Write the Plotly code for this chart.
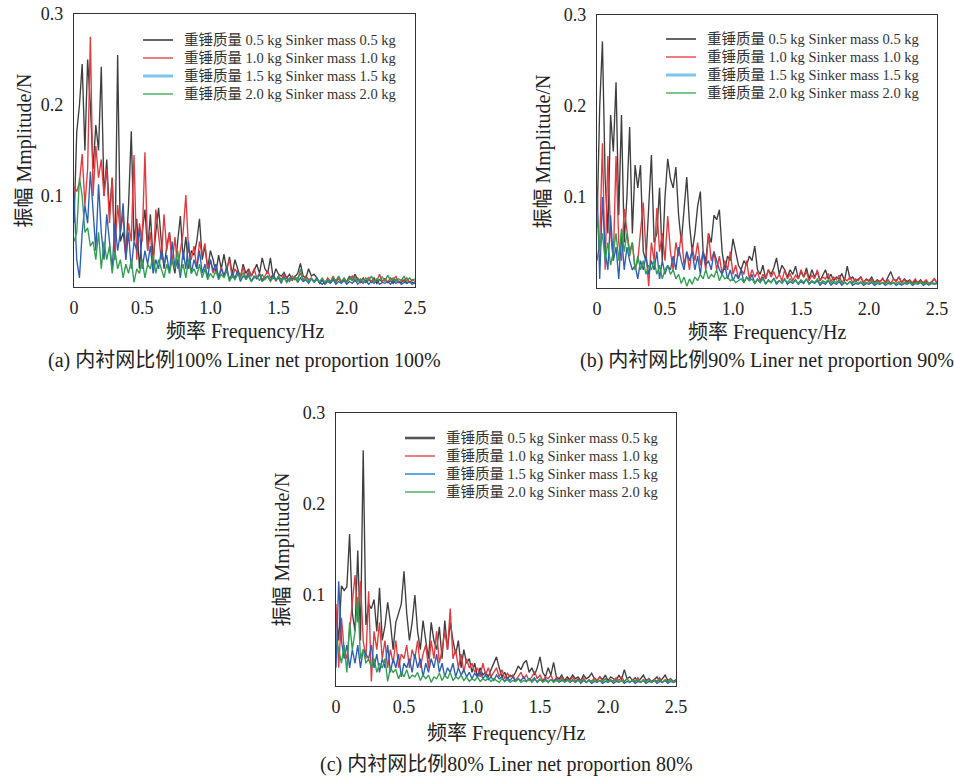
import numpy as np
import plotly.graph_objects as go

# Frequency spectra of sinker-line tension, step 0.02 Hz from 0 to 2.5 Hz
FREQ_STEP = 0.02

SERIES_NAMES = [
    "重锤质量 0.5 kg Sinker mass 0.5 kg",
    "重锤质量 1.0 kg Sinker mass 1.0 kg",
    "重锤质量 1.5 kg Sinker mass 1.5 kg",
    "重锤质量 2.0 kg Sinker mass 2.0 kg",
]

# ---- (a) liner net proportion 100% ----
a_05 = [0.07, 0.17, 0.20, 0.245, 0.15, 0.25, 0.20, 0.13, 0.178, 0.15,
        0.242, 0.10, 0.14, 0.08, 0.12, 0.03, 0.255, 0.05, 0.06, 0.035,
        0.09, 0.171, 0.05, 0.075, 0.02, 0.06, 0.085, 0.04, 0.08, 0.03,
        0.06, 0.087, 0.05, 0.02, 0.045, 0.06, 0.03, 0.015, 0.05, 0.078,
        0.03, 0.055, 0.02, 0.04, 0.035, 0.05, 0.075, 0.03, 0.045, 0.02,
        0.04, 0.03, 0.015, 0.035, 0.02, 0.036, 0.018, 0.033, 0.014, 0.03,
        0.02, 0.01, 0.025, 0.015, 0.02, 0.012, 0.018, 0.025, 0.015, 0.032,
        0.02, 0.015, 0.032, 0.01, 0.02, 0.014, 0.012, 0.016, 0.01, 0.014,
        0.008, 0.012, 0.015, 0.026, 0.012, 0.01, 0.02, 0.012, 0.014, 0.01,
        0.005, 0.003, 0.006, 0.008, 0.005, 0.009, 0.006, 0.01, 0.005, 0.008,
        0.006, 0.012, 0.007, 0.014, 0.008, 0.006, 0.01, 0.005, 0.008, 0.006,
        0.01, 0.004, 0.008, 0.006, 0.009, 0.005, 0.007, 0.004, 0.008, 0.006,
        0.005, 0.008, 0.004, 0.006, 0.005, 0.004]
a_10 = [0.11, 0.105, 0.115, 0.146, 0.09, 0.13, 0.275, 0.10, 0.155, 0.12,
        0.14, 0.10, 0.13, 0.07, 0.12, 0.04, 0.09, 0.06, 0.08, 0.03,
        0.07, 0.05, 0.145, 0.03, 0.07, 0.05, 0.148, 0.04, 0.06, 0.02,
        0.085, 0.06, 0.03, 0.08, 0.04, 0.06, 0.025, 0.055, 0.02, 0.04,
        0.06, 0.101, 0.04, 0.03, 0.045, 0.02, 0.05, 0.035, 0.048, 0.02,
        0.03, 0.015, 0.025, 0.01, 0.022, 0.012, 0.02, 0.03, 0.01, 0.02,
        0.015, 0.012, 0.022, 0.008, 0.018, 0.012, 0.02, 0.01, 0.015, 0.008,
        0.012, 0.018, 0.01, 0.014, 0.006, 0.012, 0.008, 0.014, 0.01, 0.006,
        0.012, 0.008, 0.01, 0.015, 0.007, 0.012, 0.008, 0.01, 0.006, 0.009,
        0.005, 0.008, 0.004, 0.01, 0.006, 0.012, 0.005, 0.009, 0.006, 0.01,
        0.005, 0.008, 0.012, 0.006, 0.01, 0.005, 0.009, 0.006, 0.011, 0.005,
        0.008, 0.006, 0.014, 0.006, 0.009, 0.005, 0.01, 0.007, 0.012, 0.005,
        0.008, 0.006, 0.01, 0.005, 0.008, 0.006]
a_15 = [0.10, 0.03, 0.01, 0.06, 0.09, 0.07, 0.127, 0.08, 0.04, 0.113,
        0.06, 0.03, 0.08, 0.05, 0.02, 0.07, 0.04, 0.06, 0.092, 0.03,
        0.06, 0.02, 0.05, 0.04, 0.065, 0.02, 0.04, 0.025, 0.045, 0.015,
        0.03, 0.02, 0.04, 0.025, 0.035, 0.015, 0.05, 0.02, 0.03, 0.01,
        0.04, 0.02, 0.05, 0.015, 0.03, 0.02, 0.04, 0.015, 0.025, 0.01,
        0.03, 0.018, 0.025, 0.01, 0.02, 0.012, 0.022, 0.008, 0.015, 0.01,
        0.018, 0.006, 0.012, 0.01, 0.015, 0.006, 0.012, 0.009, 0.014, 0.006,
        0.01, 0.012, 0.007, 0.014, 0.008, 0.01, 0.004, 0.012, 0.006, 0.01,
        0.008, 0.012, 0.005, 0.01, 0.006, 0.008, 0.004, 0.009, 0.006, 0.01,
        0.004, 0.007, 0.003, 0.006, 0.004, 0.008, 0.003, 0.006, 0.004, 0.007,
        0.003, 0.006, 0.004, 0.008, 0.003, 0.006, 0.004, 0.007, 0.003, 0.006,
        0.004, 0.008, 0.003, 0.005, 0.004, 0.006, 0.003, 0.007, 0.004, 0.006,
        0.003, 0.005, 0.004, 0.006, 0.003, 0.005]
a_20 = [0.05, 0.06, 0.12, 0.10, 0.06, 0.065, 0.045, 0.05, 0.03, 0.06,
        0.02, 0.05, 0.03, 0.045, 0.015, 0.04, 0.02, 0.03, 0.01, 0.025,
        0.015, 0.03, 0.005, 0.02, 0.015, 0.03, 0.01, 0.025, 0.02, 0.035,
        0.015, 0.03, 0.02, 0.01, 0.025, 0.015, 0.03, 0.02, 0.04, 0.015,
        0.025, 0.01, 0.03, 0.015, 0.02, 0.012, 0.025, 0.01, 0.02, 0.008,
        0.015, 0.01, 0.018, 0.008, 0.014, 0.01, 0.018, 0.006, 0.012, 0.008,
        0.014, 0.01, 0.016, 0.008, 0.012, 0.006, 0.01, 0.012, 0.007, 0.014,
        0.008, 0.012, 0.006, 0.01, 0.008, 0.012, 0.006, 0.01, 0.005, 0.009,
        0.007, 0.012, 0.006, 0.02, 0.008, 0.01, 0.006, 0.009, 0.005, 0.008,
        0.006, 0.01, 0.005, 0.008, 0.006, 0.01, 0.007, 0.012, 0.006, 0.009,
        0.005, 0.01, 0.007, 0.011, 0.006, 0.009, 0.005, 0.01, 0.007, 0.012,
        0.006, 0.009, 0.007, 0.011, 0.006, 0.013, 0.007, 0.01, 0.006, 0.009,
        0.007, 0.012, 0.006, 0.01, 0.007, 0.009]

# ---- (b) liner net proportion 90% ----
b_05 = [0.067, 0.20, 0.271, 0.12, 0.06, 0.19, 0.15, 0.226, 0.08, 0.19,
        0.05, 0.10, 0.177, 0.06, 0.135, 0.11, 0.135, 0.04, 0.03, 0.09,
        0.146, 0.05, 0.06, 0.11, 0.03, 0.10, 0.142, 0.12, 0.11, 0.133,
        0.08, 0.05, 0.09, 0.122, 0.07, 0.04, 0.06, 0.09, 0.106, 0.04,
        0.03, 0.06, 0.05, 0.08, 0.075, 0.086, 0.04, 0.02, 0.035, 0.03,
        0.054, 0.04, 0.025, 0.02, 0.03, 0.025, 0.035, 0.03, 0.046, 0.02,
        0.015, 0.025, 0.01, 0.02, 0.015, 0.022, 0.033, 0.015, 0.025, 0.02,
        0.012, 0.02, 0.015, 0.024, 0.01, 0.018, 0.012, 0.022, 0.01, 0.02,
        0.012, 0.018, 0.008, 0.014, 0.02, 0.01, 0.015, 0.008, 0.012, 0.01,
        0.016, 0.008, 0.024, 0.01, 0.012, 0.007, 0.01, 0.012, 0.006, 0.01,
        0.008, 0.012, 0.006, 0.009, 0.007, 0.01, 0.006, 0.012, 0.018, 0.01,
        0.008, 0.012, 0.006, 0.01, 0.007, 0.009, 0.005, 0.008, 0.006, 0.009,
        0.005, 0.007, 0.004, 0.006, 0.01, 0.006]
b_10 = [0.03, 0.05, 0.159, 0.02, 0.145, 0.06, 0.03, 0.145, 0.05, 0.03,
        0.087, 0.06, 0.04, 0.05, 0.02, 0.03, 0.06, 0.094, 0.04, 0.002,
        0.05, 0.03, 0.088, 0.04, 0.06, 0.03, 0.079, 0.04, 0.02, 0.05,
        0.035, 0.06, 0.025, 0.04, 0.02, 0.045, 0.03, 0.05, 0.025, 0.04,
        0.02, 0.06, 0.03, 0.04, 0.02, 0.035, 0.015, 0.03, 0.02, 0.04,
        0.015, 0.025, 0.01, 0.02, 0.015, 0.03, 0.01, 0.02, 0.012, 0.018,
        0.008, 0.015, 0.01, 0.02, 0.012, 0.018, 0.01, 0.015, 0.008, 0.02,
        0.01, 0.016, 0.008, 0.014, 0.01, 0.02, 0.012, 0.018, 0.008, 0.014,
        0.01, 0.02, 0.008, 0.012, 0.01, 0.016, 0.007, 0.012, 0.009, 0.014,
        0.006, 0.01, 0.008, 0.012, 0.006, 0.01, 0.008, 0.012, 0.006, 0.009,
        0.007, 0.01, 0.005, 0.008, 0.006, 0.011, 0.006, 0.009, 0.005, 0.01,
        0.007, 0.012, 0.006, 0.009, 0.005, 0.008, 0.006, 0.01, 0.005, 0.008,
        0.006, 0.009, 0.005, 0.007, 0.01, 0.006]
b_15 = [0.113, 0.01, 0.10, 0.04, 0.02, 0.08, 0.03, 0.045, 0.01, 0.06,
        0.02, 0.045, 0.03, 0.02, 0.025, 0.01, 0.03, 0.02, 0.035, 0.015,
        0.03, 0.02, 0.04, 0.01, 0.03, 0.015, 0.025, 0.02, 0.035, 0.02,
        0.045, 0.03, 0.02, 0.04, 0.03, 0.04, 0.02, 0.035, 0.015, 0.04,
        0.025, 0.03, 0.02, 0.04, 0.03, 0.02, 0.015, 0.025, 0.01, 0.02,
        0.008, 0.015, 0.01, 0.02, 0.006, 0.012, 0.008, 0.015, 0.005, 0.01,
        0.006, 0.012, 0.004, 0.009, 0.006, 0.011, 0.004, 0.008, 0.006, 0.01,
        0.004, 0.007, 0.005, 0.009, 0.004, 0.007, 0.005, 0.01, 0.004, 0.007,
        0.005, 0.008, 0.003, 0.006, 0.004, 0.008, 0.003, 0.006, 0.004, 0.007,
        0.003, 0.006, 0.004, 0.007, 0.003, 0.005, 0.004, 0.006, 0.003, 0.005,
        0.004, 0.006, 0.003, 0.005, 0.004, 0.006, 0.003, 0.005, 0.004, 0.006,
        0.003, 0.005, 0.003, 0.005, 0.004, 0.006, 0.003, 0.005, 0.004, 0.006,
        0.003, 0.005, 0.003, 0.005, 0.004, 0.005]
b_20 = [0.085, 0.04, 0.06, 0.03, 0.05, 0.025, 0.04, 0.06, 0.03, 0.065,
        0.04, 0.06, 0.035, 0.05, 0.02, 0.035, 0.02, 0.03, 0.015, 0.025,
        0.02, 0.03, 0.015, 0.025, 0.01, 0.02, 0.025, 0.015, 0.02, 0.01,
        0.015, 0.005, 0.012, 0.002, 0.01, 0.004, 0.012, 0.008, 0.015, 0.01,
        0.02, 0.01, 0.015, 0.012, 0.02, 0.008, 0.015, 0.01, 0.012, 0.008,
        0.01, 0.006, 0.008, 0.01, 0.006, 0.012, 0.008, 0.01, 0.005, 0.009,
        0.006, 0.01, 0.005, 0.008, 0.006, 0.01, 0.006, 0.008, 0.005, 0.009,
        0.006, 0.01, 0.006, 0.008, 0.005, 0.009, 0.006, 0.01, 0.005, 0.008,
        0.006, 0.01, 0.005, 0.008, 0.006, 0.009, 0.005, 0.008, 0.006, 0.009,
        0.005, 0.007, 0.004, 0.007, 0.005, 0.008, 0.005, 0.007, 0.004, 0.006,
        0.005, 0.008, 0.005, 0.007, 0.004, 0.006, 0.005, 0.007, 0.004, 0.006,
        0.005, 0.007, 0.004, 0.006, 0.005, 0.007, 0.004, 0.006, 0.005, 0.007,
        0.004, 0.006, 0.004, 0.006, 0.005, 0.006]

# ---- (c) liner net proportion 80% ----
c_05 = [0.08, 0.05, 0.11, 0.105, 0.109, 0.167, 0.08, 0.06, 0.149, 0.05,
        0.259, 0.067, 0.09, 0.085, 0.095, 0.06, 0.108, 0.05, 0.066, 0.092,
        0.07, 0.04, 0.07, 0.08, 0.09, 0.126, 0.08, 0.05, 0.07, 0.10,
        0.06, 0.04, 0.072, 0.05, 0.03, 0.07, 0.05, 0.04, 0.065, 0.03,
        0.072, 0.04, 0.07, 0.05, 0.035, 0.05, 0.02, 0.04, 0.025, 0.03,
        0.015, 0.025, 0.01, 0.02, 0.012, 0.015, 0.01, 0.018, 0.025, 0.032,
        0.02, 0.01, 0.015, 0.008, 0.012, 0.01, 0.015, 0.022, 0.018, 0.025,
        0.028, 0.015, 0.02, 0.012, 0.02, 0.032, 0.015, 0.01, 0.02, 0.012,
        0.026, 0.01, 0.008, 0.012, 0.006, 0.01, 0.007, 0.012, 0.008, 0.01,
        0.006, 0.012, 0.008, 0.01, 0.014, 0.008, 0.006, 0.01, 0.007, 0.012,
        0.006, 0.01, 0.008, 0.006, 0.012, 0.007, 0.018, 0.008, 0.01, 0.006,
        0.009, 0.005, 0.008, 0.012, 0.006, 0.008, 0.005, 0.007, 0.01, 0.005,
        0.008, 0.012, 0.006, 0.008, 0.005, 0.007]
c_10 = [0.09, 0.02, 0.075, 0.04, 0.03, 0.06, 0.09, 0.122, 0.07, 0.115,
        0.05, 0.03, 0.104, 0.005, 0.06, 0.04, 0.07, 0.03, 0.05, 0.02,
        0.04, 0.025, 0.05, 0.02, 0.035, 0.03, 0.045, 0.02, 0.04, 0.03,
        0.05, 0.02, 0.035, 0.045, 0.02, 0.05, 0.03, 0.06, 0.025, 0.04,
        0.06, 0.04, 0.085, 0.03, 0.04, 0.02, 0.035, 0.015, 0.03, 0.02,
        0.025, 0.015, 0.02, 0.01, 0.025, 0.012, 0.02, 0.01, 0.015, 0.02,
        0.01, 0.018, 0.008, 0.014, 0.01, 0.012, 0.006, 0.01, 0.015, 0.008,
        0.012, 0.006, 0.01, 0.016, 0.008, 0.012, 0.006, 0.01, 0.008, 0.012,
        0.005, 0.009, 0.006, 0.01, 0.005, 0.008, 0.006, 0.01, 0.005, 0.008,
        0.006, 0.009, 0.004, 0.007, 0.005, 0.009, 0.006, 0.01, 0.005, 0.008,
        0.004, 0.007, 0.005, 0.009, 0.006, 0.01, 0.005, 0.008, 0.004, 0.007,
        0.005, 0.009, 0.004, 0.007, 0.005, 0.008, 0.004, 0.007, 0.005, 0.009,
        0.004, 0.007, 0.005, 0.008, 0.004, 0.006]
c_15 = [0.02, 0.115, 0.05, 0.03, 0.045, 0.02, 0.04, 0.025, 0.045, 0.02,
        0.04, 0.035, 0.03, 0.045, 0.02, 0.035, 0.015, 0.03, 0.02, 0.045,
        0.015, 0.03, 0.02, 0.035, 0.01, 0.025, 0.02, 0.03, 0.015, 0.035,
        0.02, 0.03, 0.01, 0.025, 0.015, 0.03, 0.02, 0.035, 0.015, 0.025,
        0.01, 0.02, 0.015, 0.025, 0.01, 0.02, 0.012, 0.018, 0.01, 0.015,
        0.008, 0.014, 0.01, 0.016, 0.008, 0.012, 0.007, 0.01, 0.006, 0.012,
        0.008, 0.01, 0.005, 0.009, 0.006, 0.01, 0.005, 0.008, 0.006, 0.01,
        0.005, 0.008, 0.006, 0.009, 0.004, 0.007, 0.005, 0.008, 0.004, 0.007,
        0.005, 0.008, 0.004, 0.006, 0.005, 0.007, 0.004, 0.006, 0.004, 0.007,
        0.003, 0.006, 0.004, 0.006, 0.003, 0.005, 0.004, 0.006, 0.003, 0.005,
        0.004, 0.006, 0.003, 0.005, 0.004, 0.006, 0.003, 0.005, 0.004, 0.006,
        0.003, 0.005, 0.004, 0.006, 0.003, 0.005, 0.004, 0.006, 0.003, 0.005,
        0.004, 0.006, 0.003, 0.005, 0.004, 0.005]
c_20 = [0.05, 0.04, 0.025, 0.045, 0.015, 0.07, 0.04, 0.06, 0.098, 0.03,
        0.04, 0.025, 0.03, 0.02, 0.03, 0.015, 0.025, 0.02, 0.03, 0.005,
        0.02, 0.015, 0.018, 0.008, 0.015, 0.01, 0.018, 0.008, 0.012, 0.01,
        0.015, 0.006, 0.012, 0.008, 0.012, 0.004, 0.01, 0.008, 0.014, 0.006,
        0.012, 0.008, 0.015, 0.006, 0.01, 0.008, 0.012, 0.006, 0.01, 0.005,
        0.008, 0.006, 0.01, 0.005, 0.008, 0.006, 0.009, 0.005, 0.008, 0.006,
        0.004, 0.008, 0.005, 0.007, 0.004, 0.006, 0.005, 0.008, 0.004, 0.006,
        0.005, 0.008, 0.004, 0.007, 0.005, 0.008, 0.004, 0.006, 0.005, 0.007,
        0.004, 0.006, 0.005, 0.008, 0.004, 0.006, 0.005, 0.007, 0.004, 0.006,
        0.005, 0.007, 0.004, 0.006, 0.005, 0.007, 0.004, 0.006, 0.005, 0.008,
        0.004, 0.006, 0.005, 0.007, 0.004, 0.006, 0.005, 0.008, 0.004, 0.006,
        0.005, 0.007, 0.004, 0.006, 0.005, 0.007, 0.004, 0.006, 0.005, 0.007,
        0.004, 0.006, 0.005, 0.007, 0.004, 0.006]

X_TICKS = [0, 0.5, 1.0, 1.5, 2.0, 2.5]
X_TICK_LABELS = ["0", "0.5", "1.0", "1.5", "2.0", "2.5"]
Y_TICKS = [0.1, 0.2, 0.3]
Y_TICK_LABELS = ["0.1", "0.2", "0.3"]

X_TITLE = "频率 Frequency/Hz"
Y_TITLE = "振幅 Mmplitude/N"
CAPTIONS = [
    "(a) 内衬网比例100% Liner net proportion 100%",
    "(b) 内衬网比例90% Liner net proportion 90%",
    "(c) 内衬网比例80% Liner net proportion 80%",
]

PANELS = [
    [a_05, a_10, a_15, a_20],
    [b_05, b_10, b_15, b_20],
    [c_05, c_10, c_15, c_20],
]

# ---------------- styling ----------------
W, H = 954, 778
FONT = "Liberation Serif, Noto Sans CJK SC, serif"
LINE_COLORS = ["#3e3e3e", "#e0393e", "#2c5fb3", "#2f9e50"]
# key swatches per panel
KEY_COLORS = [
    ["#111111", "#e0393e", "#7cc6ee", "#33a853"],
    ["#111111", "#e0393e", "#7cc6ee", "#33a853"],
    ["#555555", "#e0393e", "#2a88d8", "#33a853"],
]
KEY_WIDTHS = [
    [1.3, 1.3, 3.0, 1.3],
    [1.3, 1.3, 3.0, 1.3],
    [2.6, 1.3, 1.5, 1.3],
]

# plot boxes in pixels: (left, right, top, bottom)
BOXES = [(74, 415, 14, 287), (597, 937, 15, 288), (336, 676, 413, 686)]
# key: swatch left x, first row y
KEY_POS = [(143, 40), (666, 39), (405, 438)]
KEY_ROW = 18
KEY_SWATCH = 30
KEY_TEXT_GAP = 9
YTITLE_X = [24, 543, 282]
XTITLE_Y = [331, 332, 733]
CAPTION_Y = [360, 360, 764]


def px(x):
    return x / W


def py(y):
    return 1 - y / H


fig = go.Figure()

for p, series in enumerate(PANELS):
    sfx = "" if p == 0 else str(p + 1)
    for k, vals in enumerate(series):
        freq = np.round(np.arange(len(vals)) * FREQ_STEP, 2)
        fig.add_trace(go.Scatter(
            x=freq, y=vals, mode="lines", name=SERIES_NAMES[k],
            xaxis="x" + sfx, yaxis="y" + sfx, showlegend=False,
            line=dict(color=LINE_COLORS[k], width=1.35),
        ))

layout = dict(
    width=W, height=H,
    margin=dict(l=0, r=0, t=0, b=0, autoexpand=False),
    paper_bgcolor="white", plot_bgcolor="white",
    font=dict(family=FONT, size=18, color="#222222"),
    showlegend=False,
    annotations=[], shapes=[],
)

for p, (l, r, t, b) in enumerate(BOXES):
    sfx = "" if p == 0 else str(p + 1)
    layout["xaxis" + sfx] = dict(
        domain=[px(l), px(r)], range=[0, 2.5], anchor="y" + sfx,
        tickvals=X_TICKS, ticktext=X_TICK_LABELS, ticks="",
        showline=True, mirror=True, linecolor="#333333", linewidth=1.3,
        showgrid=False, zeroline=False, fixedrange=True,
        tickfont=dict(family=FONT, size=18, color="#222222"),
        ticklabelstandoff=4,
    )
    layout["yaxis" + sfx] = dict(
        domain=[py(b), py(t)], range=[0, 0.3], anchor="x" + sfx,
        tickvals=Y_TICKS, ticktext=Y_TICK_LABELS, ticks="",
        showline=True, mirror=True, linecolor="#333333", linewidth=1.3,
        showgrid=False, zeroline=False, fixedrange=True,
        tickfont=dict(family=FONT, size=18, color="#222222"),
        ticklabelstandoff=6,
    )
    # series key
    kx, ky = KEY_POS[p]
    for k, name in enumerate(SERIES_NAMES):
        yy = ky + k * KEY_ROW
        layout["shapes"].append(dict(
            type="line", xref="paper", yref="paper",
            x0=px(kx), x1=px(kx + KEY_SWATCH), y0=py(yy), y1=py(yy),
            line=dict(color=KEY_COLORS[p][k], width=KEY_WIDTHS[p][k]),
        ))
        layout["annotations"].append(dict(
            text=name, x=px(kx + KEY_SWATCH + KEY_TEXT_GAP), y=py(yy),
            xref="paper", yref="paper", showarrow=False,
            xanchor="left", yanchor="middle",
            font=dict(family=FONT, size=14.5, color="#333333"),
        ))
    cx = (l + r) / 2
    cy = (t + b) / 2
    layout["annotations"] += [
        dict(text=Y_TITLE, x=px(YTITLE_X[p]), y=py(cy), xref="paper", yref="paper",
             textangle=-90, showarrow=False, xanchor="center", yanchor="middle",
             font=dict(family=FONT, size=20, color="#222222")),
        dict(text=X_TITLE, x=px(cx), y=py(XTITLE_Y[p]), xref="paper", yref="paper",
             showarrow=False, xanchor="center", yanchor="middle",
             font=dict(family=FONT, size=20, color="#222222")),
        dict(text=CAPTIONS[p], x=px(cx), y=py(CAPTION_Y[p]), xref="paper", yref="paper",
             showarrow=False, xanchor="center", yanchor="middle",
             font=dict(family=FONT, size=20, color="#222222")),
    ]

fig.update_layout(**layout)
fig.write_html("out.html")
